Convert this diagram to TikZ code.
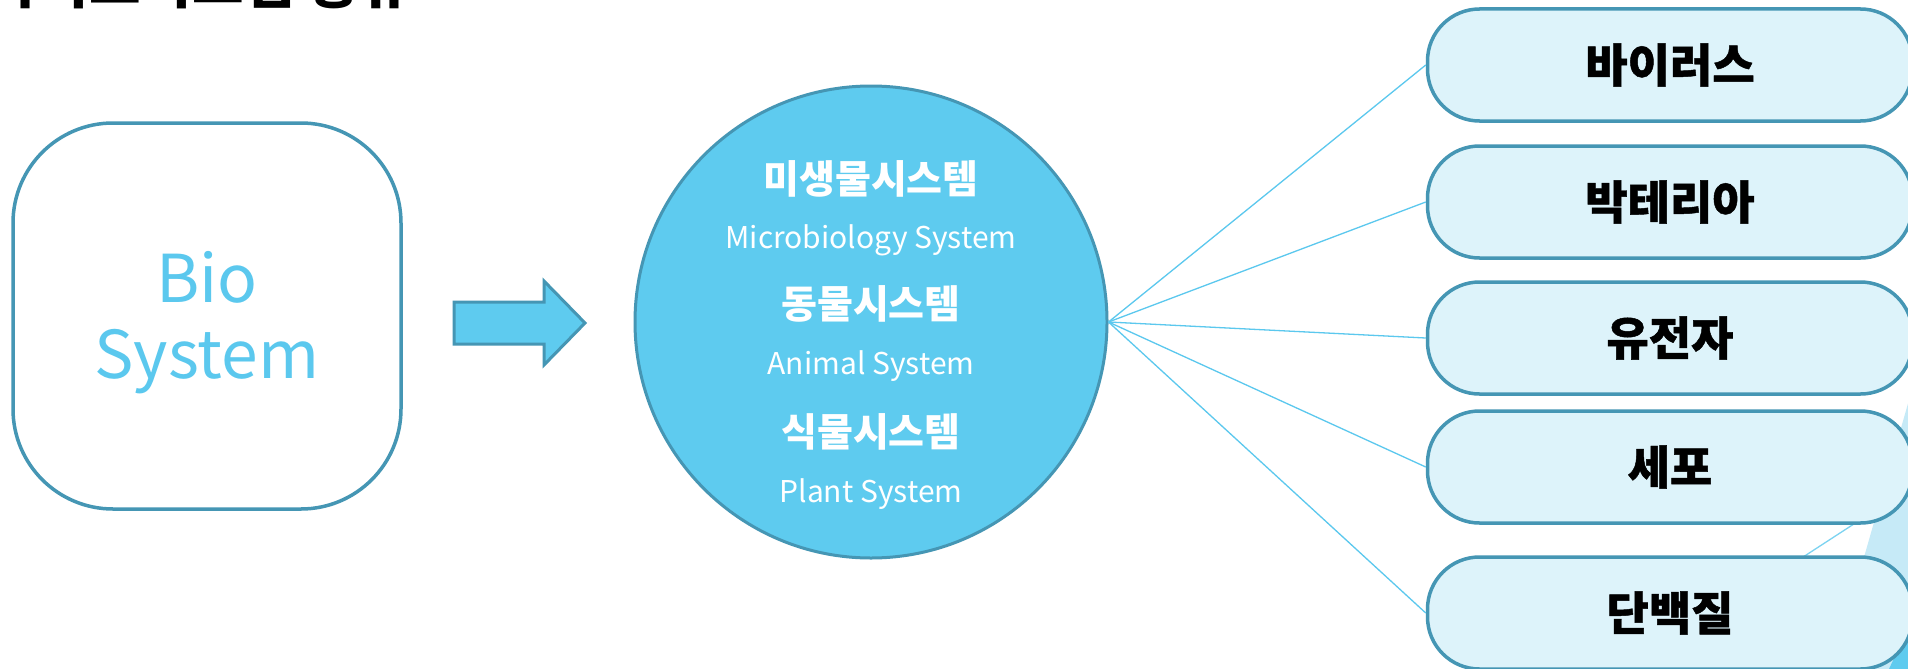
\documentclass[tikz,border=0pt]{standalone}
\usepackage{fontspec}
\setmainfont{Noto Sans CJK KR}
\newfontfamily\krheavy{Noto Sans CJK KR}[BoldFeatures={FakeBold=1.0}]
\usetikzlibrary{positioning}
\definecolor{edgeblue}{HTML}{4596B4}
\definecolor{skyfill}{HTML}{5ECBEF}
\definecolor{pillfill}{HTML}{DDF3FA}
\definecolor{linkblue}{HTML}{5BC8EE}
\definecolor{wedgeblue}{HTML}{C6EAF7}
\begin{document}
\begin{tikzpicture}[x=1pt,y=-1pt,
  pill/.style={draw=edgeblue, line width=3.5pt, fill=pillfill, rounded corners=52pt,
    minimum width=485pt, minimum height=112pt, inner sep=0pt, text=black,
    font=\fontsize{46}{50}\selectfont\krheavy\bfseries},
  link/.style={draw=linkblue, line width=1.3pt},
  ctitle/.style={text=white, font=\fontsize{39}{44}\selectfont\bfseries, inner sep=0pt},
  csub/.style={text=white, font=\fontsize{30}{33}\selectfont, inner sep=0pt}]
\useasboundingbox (0,0) rectangle (1908,669);
\clip (0,0) rectangle (1908,669);
\fill[white] (0,0) rectangle (1908,669);
% title (cut off at top)
\node[anchor=base west, inner sep=0pt, font=\fontsize{56}{56}\selectfont\bfseries, text=black] (title) at (-14,3.5) {바이오시스템 종류};
% left box
\node[draw=edgeblue, line width=3.5pt, fill=white, rounded corners=100pt,
  minimum width=388pt, minimum height=386pt, inner sep=0pt] (bio) at (207,316) {};
\node[text=linkblue, align=center, font=\fontsize{66}{76}\selectfont, inner sep=0pt] (biotext) at (207,323) {Bio\\System};
% arrow
\draw[draw=edgeblue, fill=skyfill, line width=3pt, line join=miter]
  (454,302) -- (544,302) -- (544,281) -- (585,323) -- (544,365) -- (544,344) -- (454,344) -- cycle;
% circle
\node[circle, draw=edgeblue, line width=3pt, fill=skyfill, minimum size=472pt, inner sep=0pt] (sys) at (871,322) {};
\node[ctitle] (t1) at (871,179) {미생물시스템};
\node[csub]   (s1) at (871,240) {Microbiology System};
\node[ctitle] (t2) at (871,304) {동물시스템};
\node[csub]   (s2) at (871,366) {Animal System};
\node[ctitle] (t3) at (871,432) {식물시스템};
\node[csub]   (s3) at (871,494) {Plant System};
% background decoration at right
\fill[wedgeblue] (1909,400) -- (1832,669) -- (1908,669) -- cycle;
\fill[skyfill] (1889,669) -- (1908,628) -- (1908,669) -- cycle;
\draw[draw=linkblue!80, line width=1.3pt] (1760,585) -- (1900,494);
% pills
\node[pill] (p1) at (1670,65) {바이러스};
\node[pill] (p2) at (1670,202) {박테리아};
\node[pill] (p3) at (1670,338) {유전자};
\node[pill] (p4) at (1670,467) {세포};
\node[pill] (p5) at (1670,613) {단백질};
% links
\foreach \p in {p1,p2,p3,p4,p5} \draw[link] (sys.east) -- (\p.west);
\end{tikzpicture}
\end{document}
